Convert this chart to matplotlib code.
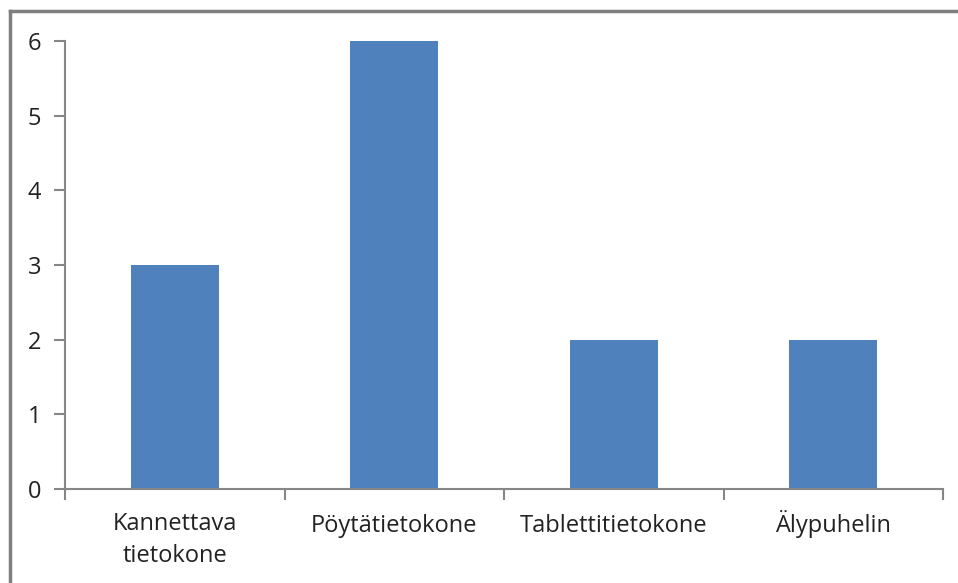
import matplotlib.pyplot as plt
from matplotlib.lines import Line2D
from matplotlib.transforms import ScaledTranslation

categories = ["Kannettava\ntietokone", "Pöytätietokone", "Tablettitietokone", "Älypuhelin"]
counts = [3, 6, 2, 2]

plt.rcParams['font.family'] = ['Open Sans', 'DejaVu Sans']

W, H = 958, 583
fig = plt.figure(figsize=(W / 100, H / 100), dpi=100)
ax = fig.add_axes([65 / W, 1 - 489 / H, (943 - 65) / W, (489 - 41) / H])

axis_grey = '#868686'
text_col = '#222222'
ax.bar(range(len(categories)), counts, width=0.4, color='#4F81BD', zorder=2)

ax.set_xlim(-0.5, len(categories) - 0.5)
ax.set_ylim(0, 6)
ax.set_yticks(range(0, 7))

# category labels without marks, boundary ticks as minor ticks
ax.set_xticks(range(len(categories)))
ax.set_xticklabels(categories, fontsize=17, color=text_col, linespacing=1.43,
                   va='baseline')
ax.set_xticks([i - 0.5 for i in range(len(categories) + 1)], minor=True)
ax.tick_params(axis='x', which='major', length=0, pad=31)
ax.tick_params(axis='x', which='minor', length=8, width=1.5, color=axis_grey)
ax.tick_params(axis='y', length=8, width=1.5, color=axis_grey, labelsize=17,
               labelcolor=text_col, pad=9)

# baseline alignment anchors the last line, so push wrapped labels down
for lbl in ax.get_xticklabels():
    extra = lbl.get_text().count('\n')
    if extra:
        shift = ScaledTranslation(0, -0.30 * extra, fig.dpi_scale_trans)
        lbl.set_transform(lbl.get_transform() + shift)

for side in ('top', 'right'):
    ax.spines[side].set_visible(False)
for side in ('left', 'bottom'):
    ax.spines[side].set_color(axis_grey)
    ax.spines[side].set_linewidth(1.5)

# outer frame, only top and left edges
frame = dict(color='#7f7f7f', linewidth=2.5, transform=fig.transFigure)
fig.add_artist(Line2D([9.5 / W, 1], [1 - 10.5 / H] * 2, **frame))
fig.add_artist(Line2D([9.5 / W] * 2, [0, 1 - 10.5 / H], **frame))

fig.savefig('out.png', dpi=100)
